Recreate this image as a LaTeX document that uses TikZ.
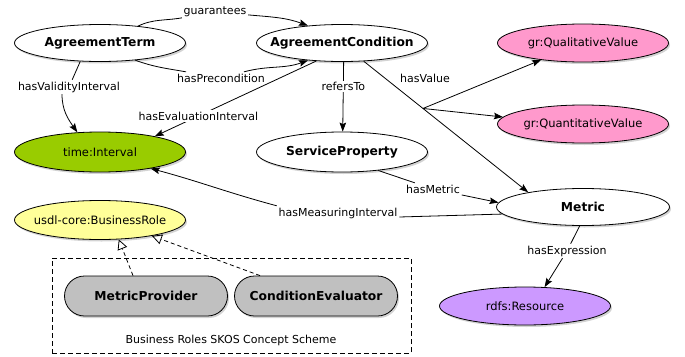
\documentclass[tikz,border=0pt]{standalone}
\usepackage{fontspec}
\setmainfont{DejaVu Sans}
\usetikzlibrary{arrows.meta, positioning, shapes.geometric, shadows}
\definecolor{cgreen}{HTML}{99CC00}
\definecolor{cpink}{HTML}{FF99CC}
\definecolor{cpurple}{HTML}{CC99FF}
\definecolor{cyellow}{HTML}{FFFF99}
\definecolor{cgrey}{HTML}{C0C0C0}
\tikzset{
  every picture/.style={line width=0.8pt},
  cls/.style={ellipse, draw, fill=#1, minimum width=171pt, minimum height=38pt, inner xsep=-15pt, inner ysep=0pt,
              font=\fontsize{11.5}{13}\selectfont, drop shadow={shadow xshift=1.5pt, shadow yshift=-2pt, opacity=0.35}},
  cls/.default=white,
  bcls/.style={cls, font=\fontsize{12.3}{14}\selectfont\bfseries},
  role/.style={draw, fill=cgrey, rounded corners=20pt, minimum width=163pt, minimum height=40pt,
               font=\fontsize{12.3}{14}\selectfont\bfseries, drop shadow={shadow xshift=1.5pt, shadow yshift=-2pt, opacity=0.35}},
  scheme/.style={draw, dash pattern=on 5pt off 3pt, minimum width=359pt, minimum height=95pt},
  lbl/.style={fill=white, inner sep=1.5pt, font=\fontsize{11}{13}\selectfont},
  arrow/.style={-{Stealth[length=9pt, width=6.5pt, inset=1.5pt]}},
  gen/.style={dash pattern=on 4pt off 3pt, -{Triangle[open, length=10pt, width=10pt]}},
}

\begin{document}
\begin{tikzpicture}[x=1pt, y=1pt]
  \useasboundingbox (0,0) rectangle (685,-356);
  % classes
  \node[bcls, minimum height=37pt] (aterm) at (100,-43) {AgreementTerm};
  \node[bcls, minimum height=37pt] (acond) at (342,-43) {AgreementCondition};
  \node[cls=cpink] (qual) at (583,-43) {gr:QualitativeValue};
  \node[cls=cpink] (quant) at (583,-124) {gr:QuantitativeValue};
  \node[cls=cgreen, minimum height=40pt] (interval) at (100,-152) {time:Interval};
  \node[bcls, minimum height=40pt] (sprop) at (342,-152) {ServiceProperty};
  \node[bcls, minimum height=37pt, minimum width=173pt] (metric) at (583,-207) {Metric};
  \node[cls=cyellow, minimum height=39pt] (brole) at (100,-220) {usdl-core:BusinessRole};
  \node[cls=cpurple] (res) at (525,-306) {rdfs:Resource};
  % SKOS concept scheme
  \node[scheme] (skos) at (231.5,-305.5) {};
  \node[role] (mprov) at (146,-296) {MetricProvider};
  \node[role] (ceval) at (316,-296) {ConditionEvaluator};
  \node[lbl] (skoslbl) at (231,-340) {Business Roles SKOS Concept Scheme};
  % properties
  \node[lbl] (lguar) at (215,-12) {guarantees};
  \draw (aterm.24) to[out=25, in=190] (lguar);
  \draw[arrow] (lguar) to[out=-5, in=160] (acond.153);
  \node[lbl] (lprec) at (221,-78) {hasPrecondition};
  \draw (aterm.-26) to[out=-20, in=170] (lprec);
  \draw[arrow] (lprec) to[out=15, in=200] (acond.207);
  \node[lbl] (lvalid) at (69,-87) {hasValidityInterval};
  \draw (aterm.223) -- (lvalid);
  \draw[arrow] ([xshift=-7pt]lvalid.south) to[out=-90, in=125] (interval.139);
  \draw[arrow] (acond.215) -- node[lbl, pos=0.73] (leval) {hasEvaluationInterval} (interval.16);
  \draw[arrow] (acond.-85) -- node[lbl, pos=0.35] (lref) {refersTo} (sprop.88);
  % hasValue branches
  \draw[arrow] (acond.-40) -- coordinate[pos=0.36] (hv) (metric.165);
  \draw[arrow] (hv) -- (qual.202);
  \draw[arrow] (hv) -- (quant.175);
  \node[lbl] (lval) at (425,-78) {hasValue};
  \node[lbl] (lmet) at (433,-189) {hasMetric};
  \draw (sprop.-27) -- (lmet);
  \draw[arrow] (lmet) -- (metric.177);
  \node[lbl] (lmeas) at (338,-213) {hasMeasuringInterval};
  \draw (metric.185) -- ([yshift=-4pt]lmeas.east);
  \draw[arrow] (lmeas.north west) to[out=165, in=-15] (interval.-18);
  \node[lbl] (lexpr) at (567,-251) {hasExpression};
  \draw (metric.-100) -- (lexpr);
  \draw[arrow] (lexpr) -- (res.44);
  % roles
  \draw[gen] ([xshift=-13pt]mprov.north) -- (brole.-46);
  \draw[gen] ([xshift=-56pt]ceval.north) -- (brole.-17);
\end{tikzpicture}
\end{document}
